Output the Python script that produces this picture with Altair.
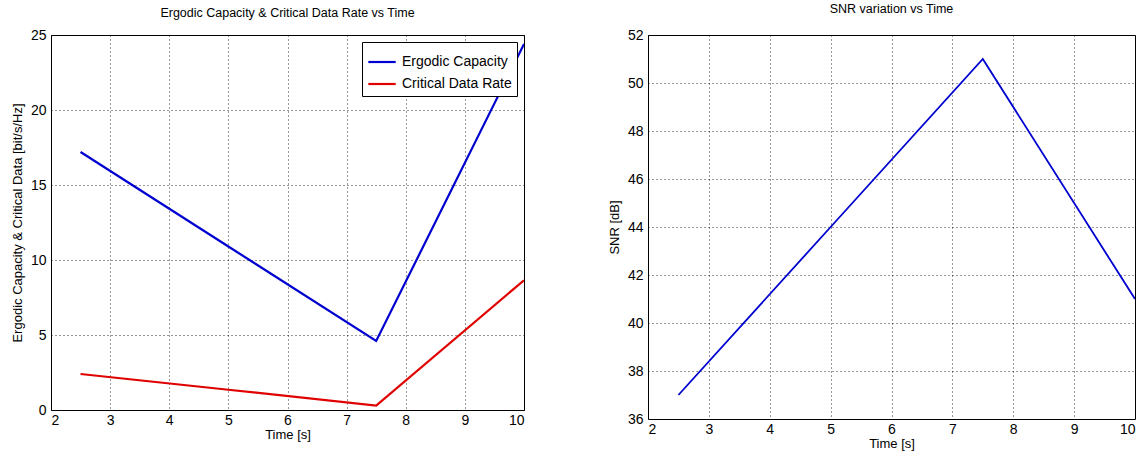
import altair as alt
import pandas as pd

time_s = [2.5, 5.0, 7.5, 10.0]
ergodic_capacity = [17.2, 10.9, 4.6, 24.4]
critical_rate = [2.4, 1.35, 0.3, 8.65]
snr_db = [37.0, 44.0, 51.0, 41.0]

x_ticks = [2, 3, 4, 5, 6, 7, 8, 9, 10]
y_ticks_left = [0, 5, 10, 15, 20, 25]
y_ticks_right = [36, 38, 40, 42, 44, 46, 48, 50, 52]

series_names = ["Ergodic Capacity", "Critical Data Rate"]
series_colors = ["#0000d0", "#e00000"]

rows = []
for t, e, c in zip(time_s, ergodic_capacity, critical_rate):
    rows.append({"t": t, "v": e, "s": series_names[0]})
    rows.append({"t": t, "v": c, "s": series_names[1]})
left_df = pd.DataFrame(rows)
right_df = pd.DataFrame({"t": time_s, "snr": snr_db})

FONT = "Liberation Sans"

def xaxis():
    return alt.Axis(values=x_ticks, title="Time [s]", grid=True, ticks=False,
                    labelPadding=3, titlePadding=1, domain=False)

left = alt.Chart(left_df).mark_line(strokeWidth=2.2, clip=True).encode(
    x=alt.X("t:Q", scale=alt.Scale(domain=[2, 10], nice=False), axis=xaxis()),
    y=alt.Y("v:Q", scale=alt.Scale(domain=[0, 25], nice=False),
            axis=alt.Axis(values=y_ticks_left,
                          title="Ergodic Capacity & Critical Data [bit/s/Hz]",
                          grid=True, ticks=False, labelPadding=5, titlePadding=6,
                          domain=False)),
    color=alt.Color("s:N", scale=alt.Scale(domain=series_names, range=series_colors),
                    sort=series_names,
                    legend=alt.Legend(title=None, orient="top-right", offset=7,
                                      strokeColor="black", fillColor="white",
                                      padding=5, symbolType="stroke",
                                      symbolStrokeWidth=2.2, symbolSize=750,
                                      labelFontSize=14, labelFont=FONT,
                                      labelColor="black", rowPadding=0,
                                      labelOffset=5)),
).properties(
    width=473, height=375,
    title=alt.TitleParams("Ergodic Capacity & Critical Data Rate vs Time",
                          fontSize=12.5, fontWeight="normal", font=FONT, offset=9),
)

right = alt.Chart(right_df).mark_line(strokeWidth=1.8, color="#0000d0", clip=True).encode(
    x=alt.X("t:Q", scale=alt.Scale(domain=[2, 10], nice=False), axis=xaxis()),
    y=alt.Y("snr:Q", scale=alt.Scale(domain=[36, 52], nice=False),
            axis=alt.Axis(values=y_ticks_right, title="SNR [dB]", grid=True,
                          ticks=False, labelPadding=5, titlePadding=6, domain=False)),
).properties(
    width=487, height=384,
    title=alt.TitleParams("SNR variation vs Time", fontSize=12.5,
                          fontWeight="normal", font=FONT, offset=13),
)

chart = alt.hconcat(left, right, spacing=82).resolve_legend(
    color="independent"
).properties(
    padding={"left": 10, "top": 2, "right": 5, "bottom": 1},
    background="white",
).configure_view(
    stroke="black", strokeWidth=1,
).configure_axis(
    labelFont=FONT, titleFont=FONT, labelFontSize=14, titleFontSize=13,
    labelColor="black", titleColor="black", titleFontWeight="normal",
    gridColor="black", gridDash=[1, 3], gridOpacity=0.8, gridWidth=1,
)

chart.save("out.html", embed_options={"renderer": "svg", "actions": False})
